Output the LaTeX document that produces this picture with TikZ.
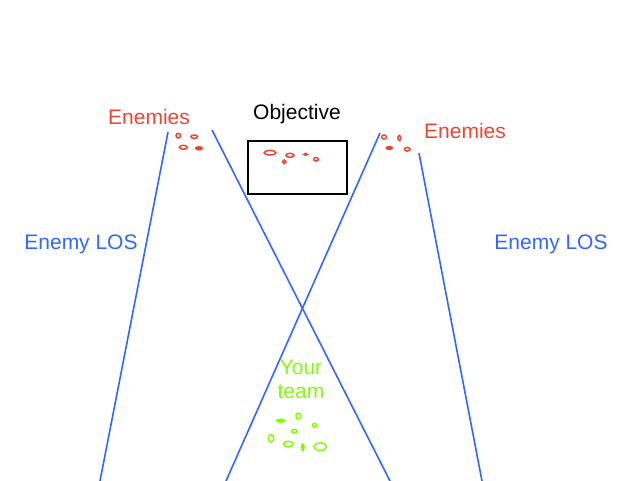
\documentclass[tikz,border=0pt]{standalone}
\usepackage{fontspec}
\setmainfont{Liberation Sans}
\definecolor{enred}{RGB}{240,68,50}
\definecolor{losblue}{RGB}{51,102,255}
\definecolor{teamgreen}{RGB}{128,255,0}
\tikzset{
  lbl/.style={font=\fontsize{21}{25}\selectfont, inner sep=0pt, anchor=center},
  los/.style={draw=losblue, line width=1.6pt},
  en/.style={draw=enred, line width=1.5pt},
  tm/.style={draw=teamgreen, line width=1.5pt},
}
\begin{document}
\begin{tikzpicture}[x=1pt,y=-1pt]
\useasboundingbox (0,0) rectangle (640,480);
% labels
\node[lbl, text=enred] (en1) at (149,117) {Enemies};
\node[lbl] (obj) at (297,114) {Objective};
\node[lbl, text=enred] (en2) at (465,131) {Enemies};
\node[lbl, text=losblue] (los1) at (81,244) {Enemy LOS};
\node[lbl, text=losblue] (los2) at (551,244) {Enemy LOS};
\node[lbl, text=teamgreen, align=center, font=\fontsize{21}{24}\selectfont] (team) at (301,379.5) {Your\\team};
% objective box
\node[draw=black, line width=1.5pt, minimum width=99pt, minimum height=53pt, inner sep=0pt] (box) at (297.5,167.5) {};
% line-of-sight lines
\coordinate (a1) at (168,132); \coordinate (a2) at (100,481);
\coordinate (b1) at (212,130); \coordinate (b2) at (390,481);
\coordinate (c1) at (380,133); \coordinate (c2) at (226,481);
\coordinate (d1) at (419,153); \coordinate (d2) at (482,481);
\draw[los] (a1) -- (a2);
\draw[los] (b1) -- (b2);
\draw[los] (c1) -- (c2);
\draw[los] (d1) -- (d2);
% enemies left
\draw[en] (178.3,135.7) ellipse (2.3 and 2.3);
\draw[en] (194.3,136.7) ellipse (3.3 and 1.7);
\draw[en] (183.3,147.3) ellipse (4 and 2);
\draw[en, fill=enred] (199,148.3) ellipse (3.3 and 1.5);
% enemies objective
\draw[en] (270,152.7) ellipse (5.8 and 2.3);
\draw[en] (290,155.3) ellipse (4 and 2);
\draw[en, fill=enred] (305.7,154.3) ellipse (1.8 and 1);
\draw[en] (316,159.3) ellipse (2.3 and 1.8);
\draw[en] (284.3,161.7) ellipse (1.8 and 1.8);
% enemies right
\draw[en] (384,137) ellipse (2.5 and 2);
\draw[en] (399.3,138) ellipse (1.4 and 2.6);
\draw[en, fill=enred] (389.3,148) ellipse (3 and 1.3);
\draw[en] (407.3,149.3) ellipse (2.8 and 1.8);
% team
\draw[tm, fill=teamgreen] (280.7,420.7) ellipse (4 and 1.4);
\draw[tm] (298.3,416) ellipse (2.4 and 2.8);
\draw[tm] (314.7,425.3) ellipse (2.3 and 1.8);
\draw[tm] (294.3,431.3) ellipse (2.8 and 1.9);
\draw[tm] (271,438.3) ellipse (2.8 and 3.8);
\draw[tm] (288.3,444) ellipse (4.8 and 2.8);
\draw[tm, fill=teamgreen] (302.7,447.3) ellipse (1.3 and 3.3);
\draw[tm] (320.3,446.7) ellipse (6.3 and 3.8);
\end{tikzpicture}
\end{document}
